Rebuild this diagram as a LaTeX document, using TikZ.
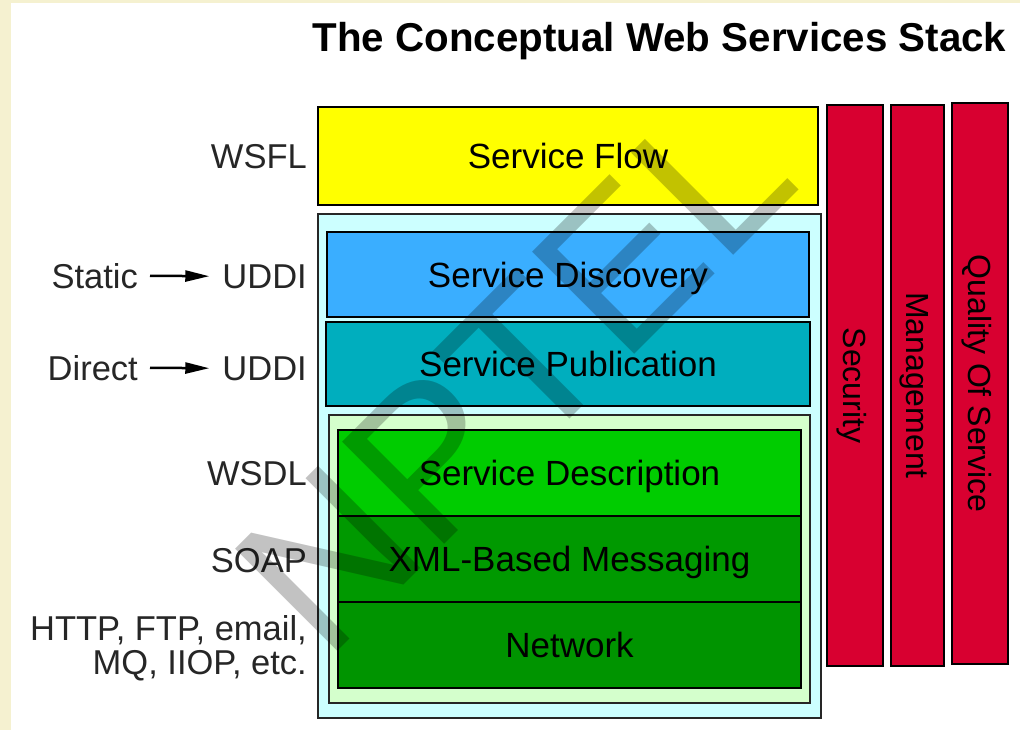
\documentclass[tikz,border=0pt]{standalone}
\usepackage{fontspec}
\setmainfont{Liberation Sans}
\usetikzlibrary{arrows.meta}
\definecolor{cream}{RGB}{245,241,208}
\definecolor{flowyellow}{RGB}{255,255,0}
\definecolor{framecyan}{RGB}{204,255,255}
\definecolor{framegreen}{RGB}{212,255,204}
\definecolor{discblue}{RGB}{58,174,255}
\definecolor{pubteal}{RGB}{0,174,190}
\definecolor{descgreen}{RGB}{0,204,0}
\definecolor{msggreen}{RGB}{0,153,0}
\definecolor{netgreen}{RGB}{0,148,0}
\definecolor{barred}{RGB}{216,0,48}
\begin{document}
\begin{tikzpicture}[x=1pt,y=-1pt,
  lbl/.style={font=\fontsize{34.5}{37}\selectfont, inner sep=0pt, text=black!85},
  layer/.style={draw=black, line width=2.5pt, inner sep=0pt,
    font=\fontsize{35}{38}\selectfont, text height=25pt, text depth=0pt},
  stackframe/.style={draw=black!85, line width=2pt, inner sep=0pt},
  redbar/.style={draw=black, line width=2.5pt, fill=barred, inner sep=0pt, rotate=-90,
    minimum width=561pt, font=\fontsize{32}{34}\selectfont, text height=22.9pt, text depth=0pt},
  arr/.style={line width=2.5pt, -{Triangle[length=24pt,width=11pt]}}
]
\useasboundingbox (0,0) rectangle (1020,730);
\fill[cream] (0,0) rectangle (1020,730);
\fill[white] (11,3) rectangle (1020,730);

% title
\node[font=\bfseries\fontsize{40.3}{44}\selectfont, inner sep=0pt, anchor=base] (title) at (659.5,52) {The Conceptual Web Services Stack};

% main stack
\node[layer, fill=flowyellow, minimum width=500pt, minimum height=98pt] (flow) at (568,156) {Service Flow};
\node[stackframe, fill=framecyan, minimum width=503pt, minimum height=504pt] (cyanframe) at (569.5,466) {};
\node[layer, fill=discblue, minimum width=482pt, minimum height=85pt] (disc) at (568,274.5) {Service Discovery};
\node[layer, fill=pubteal, minimum width=484pt, minimum height=84pt] (pub) at (568,364) {Service Publication};
\node[stackframe, fill=framegreen, minimum width=481pt, minimum height=288pt] (greenframe) at (569.5,559) {};
\node[layer, fill=descgreen, minimum width=463pt, minimum height=86pt] (desc) at (569.5,473) {Service Description};
\node[layer, fill=msggreen, minimum width=463pt, minimum height=86pt] (msg) at (569.5,559) {XML-Based Messaging};
\node[layer, fill=netgreen, minimum width=463pt, minimum height=86pt] (net) at (569.5,645) {Network};

% vertical bars
\node[redbar, minimum height=56pt] (sec) at (855,385.5) {Security};
\node[redbar, minimum height=53pt] (mgmt) at (917.5,385.5) {Management};
\node[redbar, minimum height=56pt] (qos) at (980,383.5) {Quality Of Service};

% left labels
\node[lbl, anchor=base east] (wsfl) at (307,169) {WSFL};
\node[lbl, anchor=base east] (static) at (138,288) {Static};
\node[lbl, anchor=base east] (uddiA) at (307,288) {UDDI};
\node[lbl, anchor=base east] (direct) at (138,380) {Direct};
\node[lbl, anchor=base east] (uddiB) at (307,380) {UDDI};
\node[lbl, anchor=base east] (wsdl) at (307,485) {WSDL};
\node[lbl, anchor=base east] (soap) at (307,572) {SOAP};
\node[lbl, anchor=base east] (httpl) at (307,640) {HTTP, FTP, email,};
\node[lbl, anchor=base east] (mql) at (307,674) {MQ, IIOP, etc.};

\draw[arr, shorten <=12pt, shorten >=13pt] (static.east) -- (uddiA.west);
\draw[arr, shorten <=12pt, shorten >=13pt] (direct.east) -- (uddiB.west);

% watermark
\node[font=\fontsize{210}{210}\selectfont, text=black, text opacity=0.24, rotate=45,
  anchor=base west, inner sep=0pt] (wm) at (325,664) {NPTEL};
\end{tikzpicture}
\end{document}
